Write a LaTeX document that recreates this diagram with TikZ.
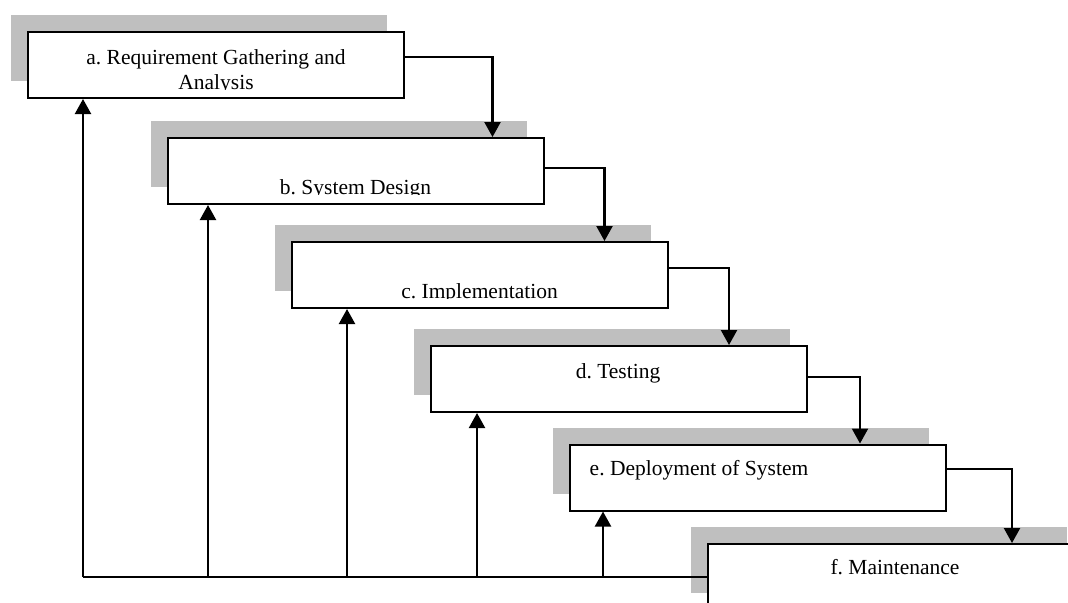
\documentclass[tikz,border=0pt]{standalone}
\usepackage{fontspec}
\setmainfont{Liberation Serif}
\usepackage{tikz}
\usetikzlibrary{arrows.meta, shadows}
\frenchspacing
\newcommand{\phasefont}{\fontsize{10.75}{12.35}\selectfont}
\tikzstyle{phase} = [rectangle, minimum width=188pt, minimum height=33pt, draw=black, line width=1pt, fill=white, drop shadow={shadow xshift=-8.5pt, shadow yshift=8.5pt, fill=black!25, opacity=1}]
\tikzstyle{phasetext} = [anchor=base, inner sep=0pt, align=center, font=\phasefont]
\tikzstyle{arrow} = [line width=1.1pt, -{Triangle[width=8pt,length=7.5pt]}]

\begin{document}
\begin{tikzpicture}[x=0.5pt, y=-0.5pt]
	\useasboundingbox (0,0) rectangle (1068,602);
	\clip (0,0) rectangle (1068,602);
	\node(a) [phase] at (216,65) {};
	\node(b) [phase] at (355.5,171) {};
	\node(c) [phase] at (479.5,275) {};
	\node(d) [phase] at (619,379) {};
	\node(e) [phase] at (758,477.5) {};
	\node(f) [phase] at (896,577) {};
	
	% texts, the lower edge of the first three is cut off
	\begin{scope}
		\clip ([yshift=5pt]a.south west) rectangle (a.north east);
		\node(atext) [phasetext] at ([yshift=5pt]a.south) {a. Requirement Gathering and\\Analysis};
	\end{scope}
	\begin{scope}
		\clip ([yshift=5.5pt]b.south west) rectangle (b.north east);
		\node(btext) [phasetext] at ([yshift=5.5pt]b.south) {b. System Design};
	\end{scope}
	\begin{scope}
		\clip ([yshift=5.5pt]c.south west) rectangle (c.north east);
		\node(ctext) [phasetext] at ([yshift=5.5pt]c.south) {c. Implementation};
	\end{scope}
	\node(dtext) [phasetext] at ([xshift=-0.5pt,yshift=17.5pt]d.south) {d. Testing};
	\node(etext) [phasetext] at ([xshift=-29.5pt,yshift=17.85pt]e.south) {e. Deployment of System};
	\node(ftext) [phasetext] at ([xshift=-0.5pt,yshift=-15.5pt]f.north) {f. Maintenance};
	
	\draw[arrow] ([yshift=4pt]a.east) -| ([xshift=-26pt]b.north east);
	\draw[arrow] ([yshift=1.35pt]b.east) -| ([xshift=-32pt]c.north east);
	\draw[arrow] ([yshift=3.5pt]c.east) -| ([xshift=-39.5pt]d.north east);
	\draw[arrow] ([yshift=1pt]d.east) -| ([xshift=-43.5pt]e.north east);
	\draw[arrow] ([yshift=4.25pt]e.east) -| ([xshift=-36.5pt]f.north east);
	
	% feedback from the bottom line
	\coordinate(ain) at ([xshift=28pt]a.south west);
	\coordinate(bin) at ([xshift=20.75pt]b.south west);
	\coordinate(cin) at ([xshift=28.25pt]c.south west);
	\coordinate(din) at ([xshift=23.5pt]d.south west);
	\coordinate(ein) at ([xshift=17pt]e.south west);
	\coordinate(fb) at (ain |- f.west);
	\draw[line width=1.1pt] (fb) -- (f.west);
	\draw[arrow] (fb) -- (ain);
	\draw[arrow] (bin |- fb) -- (bin);
	\draw[arrow] (cin |- fb) -- (cin);
	\draw[arrow] (din |- fb) -- (din);
	\draw[arrow] (ein |- fb) -- (ein);
\end{tikzpicture}
\end{document}
